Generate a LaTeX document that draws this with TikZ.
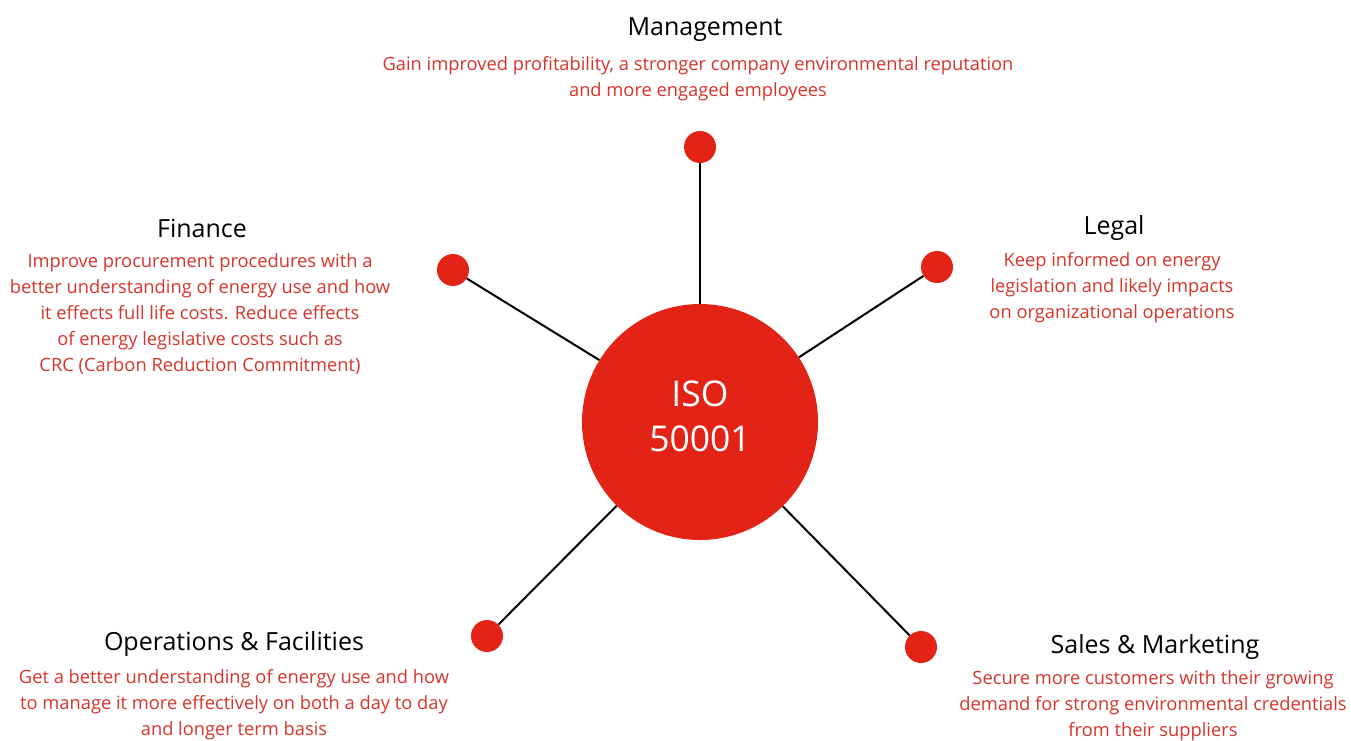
\documentclass[tikz,border=0pt]{standalone}
\usepackage{fontspec}
\setmainfont{Open Sans}
\usepackage{tikz}
\usetikzlibrary{positioning}
\definecolor{isored}{RGB}{227,35,21}
\definecolor{textred}{RGB}{214,52,42}

\begin{document}
\begin{tikzpicture}[x=1pt,y=-1pt,
        hub/.style={circle,fill=isored,minimum size=236pt,inner sep=0pt,
            text=white,align=center,font=\fontsize{35.5}{45}\selectfont},
        dot/.style={circle,fill=isored,minimum size=32pt,inner sep=0pt},
        spoke/.style={line width=2pt,black},
        head/.style={font=\fontsize{25}{30}\selectfont,inner sep=0pt},
        blurb/.style={text=textred,align=center,inner sep=0pt,
            font=\fontsize{18.3}{26}\selectfont}]
    \useasboundingbox (0,0) rectangle (1351,740);
    \node[hub] (iso) at (700,422) {};
    \node[text=white,align=center,inner sep=0pt,font=\fontsize{35.5}{45}\selectfont]
        (isotext) at (700,416) {ISO\\50001};
    % the five dots round the hub
    \node[dot] (mgmt) at (700,147) {};
    \node[dot] (fin) at (453,270) {};
    \node[dot] (legal) at (937,267) {};
    \node[dot] (ops) at (487,636) {};
    \node[dot] (sales) at (921,647) {};
    \foreach \d in {mgmt,fin,legal,ops,sales}
        \draw[spoke] (\d) -- (iso);
    % labels
    \node[head] (mgmthead) at (705,30) {Management};
    \node[blurb] (mgmttext) at (698,79) {Gain improved profitability, a stronger company environmental reputation\\
        and more engaged employees};
    \node[head] (finhead) at (202,228) {Finance};
    \node[blurb] (fintext) at (200,314) {Improve procurement procedures with a\\
        better understanding of energy use and how\\
        it effects full life costs. Reduce effects\\
        of energy legislative costs such as\\
        CRC (Carbon Reduction Commitment)};
    \node[head] (legalhead) at (1114,228) {Legal};
    \node[blurb] (legaltext) at (1112,288) {Keep informed on energy\\
        legislation and likely impacts\\
        on organizational operations};
    \node[head] (opshead) at (234,644) {Operations \& Facilities};
    \node[blurb] (opstext) at (234,705) {Get a better understanding of energy use and how\\
        to manage it more effectively on both a day to day\\
        and longer term basis};
    \node[head] (saleshead) at (1155,647) {Sales \& Marketing};
    \node[blurb] (salestext) at (1153,706) {Secure more customers with their growing\\
        demand for strong environmental credentials\\
        from their suppliers};
\end{tikzpicture}
\end{document}
